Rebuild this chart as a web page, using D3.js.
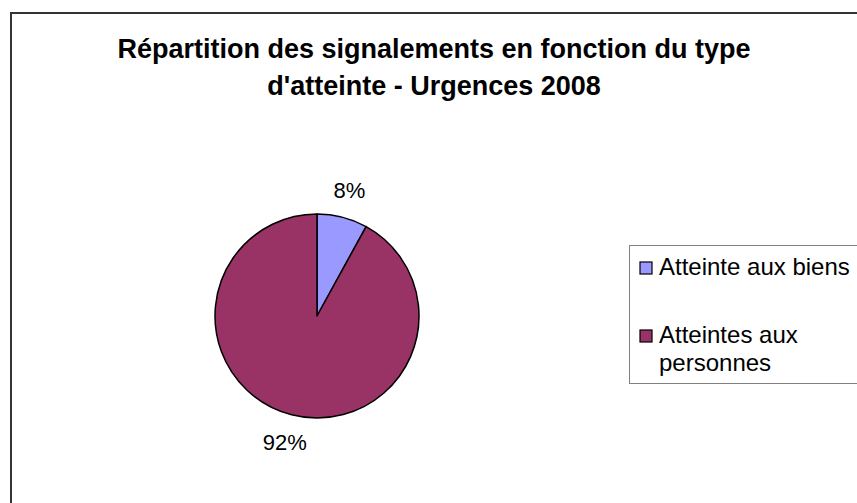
<!DOCTYPE html>
<html>
<head>
<meta charset="utf-8">
<script src="https://cdn.jsdelivr.net/npm/d3@7"></script>
<style>
  html, body { margin: 0; padding: 0; background: #fff; }
  svg { display: block; font-family: "Liberation Sans", Arial, sans-serif; }
</style>
</head>
<body>
<svg id="chart" width="857" height="503"></svg>
<script>
// Share of reports by type of harm, emergency departments 2008
const categories = ["Atteinte aux biens", "Atteintes aux personnes"];
const values = [8, 92];
const legendLines = [["Atteinte aux biens"], ["Atteintes aux", "personnes"]];
const colors = ["#9999ff", "#993366"];
const titleLines = ["Répartition des signalements en fonction du type", "d'atteinte - Urgences 2008"];

const svg = d3.select("#chart");

// outer chart frame
svg.append("rect")
  .attr("x", 11).attr("y", 13)
  .attr("width", 900).attr("height", 600)
  .attr("fill", "#fff").attr("stroke", "#333").attr("stroke-width", 2);

// title
svg.append("g").selectAll("text").data(titleLines).join("text")
  .attr("x", 434).attr("y", (d, i) => 58 + i * 37)
  .attr("text-anchor", "middle")
  .attr("font-size", 27).attr("font-weight", "bold")
  .text(d => d);

// pie
const cx = 317, cy = 316, r = 102;
const pie = d3.pie().sort(null).value(d => d)(values);
const arc = d3.arc().innerRadius(0).outerRadius(r);
const g = svg.append("g").attr("transform", `translate(${cx},${cy})`);
g.selectAll("path").data(pie).join("path")
  .attr("d", arc)
  .attr("fill", (d, i) => colors[i])
  .attr("stroke", "#000").attr("stroke-width", 1.5)
  .attr("stroke-linejoin", "round");

// percentage labels outside the slices
const total = d3.sum(values);
const labelArc = d3.arc().innerRadius(r + 28).outerRadius(r + 28);
g.selectAll("text.pct").data(pie).join("text")
  .attr("class", "pct")
  .attr("transform", d => {
    const [x, y] = labelArc.centroid(d);
    return `translate(${x},${y})`;
  })
  .attr("text-anchor", "middle")
  .attr("dy", "0.35em")
  .attr("font-size", 22)
  .text(d => Math.round(d.data / total * 100) + "%");

// legend
const lg = svg.append("g");
lg.append("rect")
  .attr("x", 629.5).attr("y", 245.5)
  .attr("width", 300).attr("height", 138)
  .attr("fill", "#fff").attr("stroke", "#808080").attr("stroke-width", 1);
const itemY = [268, 336];
categories.forEach((c, i) => {
  lg.append("rect")
    .attr("x", 640).attr("y", itemY[i] - 6)
    .attr("width", 12).attr("height", 12)
    .attr("fill", colors[i]).attr("stroke", "#000").attr("stroke-width", 1.2);
  legendLines[i].forEach((line, j) => {
    lg.append("text")
      .attr("x", 659).attr("y", itemY[i] + 7 + j * 28)
      .attr("font-size", 24)
      .text(line);
  });
});
</script>
</body>
</html>
